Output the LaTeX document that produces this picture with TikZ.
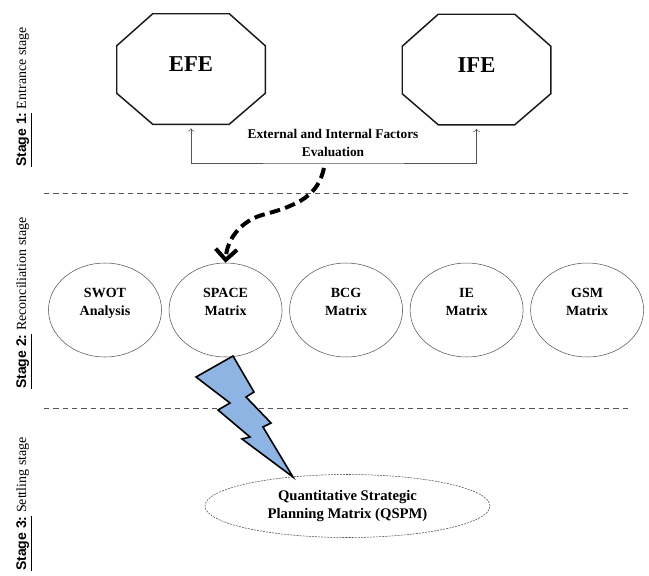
\documentclass[tikz,border=0pt]{standalone}
\usepackage{fontspec}
\setmainfont{Liberation Serif}
\setsansfont{Liberation Sans}
\usetikzlibrary{arrows.meta, shapes.geometric, positioning, calc}
\definecolor{bolt1}{RGB}{141,180,226}
\definecolor{line1}{RGB}{85,85,85}
% octagon drawn round a named node
\newcommand{\octframe}[1]{%
  \draw[octline] ($(#1.north west)+(36,0)$) -- ($(#1.north east)+(-36,0)$)
    -- ($(#1.north east)+(0,32)$) -- ($(#1.south east)+(0,-31)$)
    -- ($(#1.south east)+(-36,0)$) -- ($(#1.south west)+(36,0)$)
    -- ($(#1.south west)+(0,-31)$) -- ($(#1.north west)+(0,32)$) -- cycle;}
\newcommand{\stagelabel}[2]{\underline{\sffamily\bfseries #1}\ #2}

\begin{document}
\begin{tikzpicture}[
    x=0.75pt, y=-0.75pt,
    octbox/.style={rectangle, minimum width=111pt, minimum height=82.5pt, inner sep=0pt,
      text depth=7pt, font=\fontsize{17}{20}\selectfont\bfseries},
    octline/.style={draw=black!90, line width=1.1pt},
    toolbox/.style={ellipse, draw=line1, thin, minimum width=84.75pt, minimum height=70.5pt,
      inner sep=0pt, align=center, text depth=12pt, font=\fontsize{10.5}{13}\selectfont\bfseries},
    qspmbox/.style={ellipse, draw=black!70, dash pattern=on 1.5pt off 0.8pt, minimum width=213.75pt,
      minimum height=47.25pt, inner sep=0pt, align=center, font=\fontsize{11}{14}\selectfont\bfseries},
    factnote/.style={align=center, inner sep=0pt, font=\fontsize{10}{13}\selectfont\bfseries},
    factline/.style={line1, thin},
    stageline/.style={line1, dash pattern=on 4pt off 3pt},
    bigarrow/.style={line width=3pt, dash pattern=on 8pt off 4pt,
      -{Straight Barb[length=8pt, width=16pt]}},
    boltshape/.style={draw=black, fill=bolt1, line width=1.2pt, line join=miter},
    sidelabel/.style={rotate=90, inner sep=0pt, font=\fontsize{10.5}{12}\selectfont}
]
\useasboundingbox (0,0) rectangle (649,575);

% Stage labels
\node[sidelabel] (lab1) at (24,97) {\stagelabel{Stage 1:}{Entrance stage}};
\node[sidelabel] (lab2) at (24,303) {\stagelabel{Stage 2:}{Reconciliation stage}};
\node[sidelabel] (lab3) at (24,504) {\stagelabel{Stage 3:}{Settling stage}};

% Stage 1
\node[octbox] (efe) at (191,69) {EFE};
\node[octbox] (ife) at (476.5,69.5) {IFE};
\octframe{efe}
\octframe{ife}

\node[factnote] (fact) at (333,143) {External and Internal Factors\\Evaluation};
\coordinate (fbase) at (333,163);
\draw[factline, {To}-{To}, shorten <=3pt, shorten >=3pt] (efe.south) |- (fbase) -| (ife.south);

% Stage separators
\draw[stageline] (44,193) -- (630,193);
\draw[stageline] (44,408) -- (630,408);

% Stage 2
\node[toolbox] (swot) at (105,310) {SWOT\\Analysis};
\node[toolbox, right=5.25pt of swot] (space) {SPACE\\Matrix};
\node[toolbox, right=5.25pt of space] (bcg) {BCG\\Matrix};
\node[toolbox, right=5.25pt of bcg] (ie) {IE\\Matrix};
\node[toolbox, right=5.25pt of ie] (gsm) {GSM\\Matrix};

\coordinate (cstart) at (324,168);
\draw[bigarrow] (cstart) .. controls (318,195) and (300,205) .. (262,215)
  .. controls (242,221) and (227,238) .. (space.north);

% Stage 3
\node[qspmbox] (qspm) at (347.5,506) {Quantitative Strategic\\Planning Matrix (QSPM)};

\draw[boltshape] (233,356) -- (196,377) -- (230,403) -- (218,410) -- (250,437)
  -- (242,439) -- (293,477) -- (263,427) -- (271,423) -- (246,397) -- (254,392) -- cycle;

\end{tikzpicture}
\end{document}
